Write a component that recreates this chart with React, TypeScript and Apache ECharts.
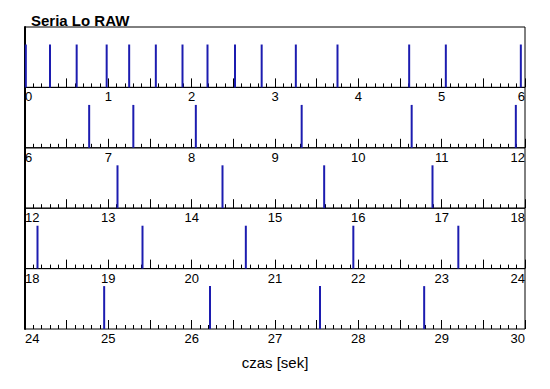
import React, { useEffect, useRef } from "react";
import * as echarts from "echarts";

const titleText = "Seria Lo RAW";
const axisTitle = "czas [sek]";
const panelStarts = [0, 6, 12, 18, 24];
const panelSpan = 6;
const spikeHeight = 0.71;
const spikeTimes = [
  0.01, 0.3, 0.62, 0.98, 1.25, 1.57, 1.89, 2.19, 2.52, 2.84, 3.25, 3.75, 4.61, 5.05, 5.95,
  6.77, 7.3, 8.05, 9.32, 10.64, 11.89,
  13.11, 14.37, 15.59, 16.89,
  18.15, 19.41, 20.65, 21.94, 23.2,
  24.95, 26.22, 27.54, 28.79,
];

const FONT = "Liberation Sans";

export default function App() {
  const ref = useRef<HTMLDivElement>(null);
  useEffect(() => {
    if (!ref.current) return;
    const chart = echarts.init(ref.current, null, { renderer: "svg" });
    const top0 = 27;
    const h = 60.4;
    const grids = panelStarts.map((_, i) => ({
      left: 25,
      right: 25,
      top: top0 + i * h,
      height: h,
      show: true,
      borderColor: "#000",
      borderWidth: 1,
      backgroundColor: "transparent",
    }));
    const xAxes = panelStarts.map((s, i) => ({
      type: "value",
      gridIndex: i,
      min: s,
      max: s + panelSpan,
      interval: 0.5,
      position: "bottom",
      axisLine: { show: false },
      splitLine: { show: false },
      axisTick: { show: true, inside: true, length: 9, lineStyle: { color: "#000", width: 1 } },
      minorTick: { show: true, splitNumber: 5, length: 4, lineStyle: { color: "#000", width: 1 } },
      axisLabel: {
        show: true,
        margin: 3,
        fontFamily: FONT,
        fontSize: 13,
        color: "#000",
        alignMinLabel: "left",
        alignMaxLabel: "right",
        formatter: (v: number) => (Math.abs(v - Math.round(v)) < 1e-6 ? String(Math.round(v)) : ""),
      },
    }));
    const yAxes = panelStarts.map((_, i) => ({
      type: "value",
      gridIndex: i,
      min: 0,
      max: 1,
      position: "left",
      axisLine: { show: true, lineStyle: { color: "#000", width: 2 } },
      axisTick: { show: false },
      axisLabel: { show: false },
      splitLine: { show: false },
    }));
    const series = panelStarts.map((s, i) => ({
      type: "bar",
      xAxisIndex: i,
      yAxisIndex: i,
      barWidth: 2,
      itemStyle: { color: "#1c1cb0" },
      data: spikeTimes.filter((t) => t >= s && t < s + panelSpan).map((t) => [t, spikeHeight]),
    }));
    chart.setOption({
      animation: false,
      backgroundColor: "#fff",
      title: {
        text: titleText,
        left: 26,
        top: 8,
        textStyle: { fontFamily: FONT, fontSize: 15, fontWeight: "bold", color: "#000" },
      },
      grid: grids,
      xAxis: xAxes,
      yAxis: yAxes,
      series,
      graphic: [
        {
          type: "text",
          x: 275,
          y: 362,
          style: {
            text: axisTitle,
            fontFamily: FONT,
            fontSize: 15,
            fill: "#000",
            textAlign: "center",
            textVerticalAlign: "middle",
          },
        },
      ],
    });
    return () => chart.dispose();
  }, []);
  return (
    <div
      ref={ref}
      style={{ position: "fixed", left: 0, top: 0, width: 550, height: 389, background: "#fff" }}
    />
  );
}
